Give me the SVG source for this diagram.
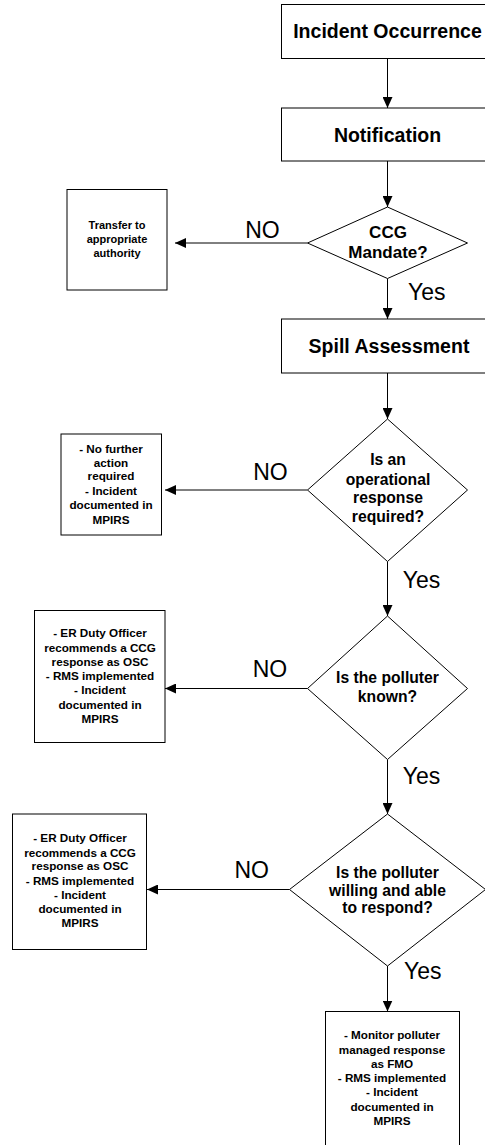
<svg xmlns="http://www.w3.org/2000/svg" width="485" height="1145" viewBox="0 0 485 1145">
<style>
.box{fill:#fff;stroke:#000;stroke-width:1}
.big{font-family:"Liberation Sans",Arial,sans-serif;font-weight:bold;font-size:19.5px;text-anchor:middle;fill:#000}
.dia{font-family:"Liberation Sans",Arial,sans-serif;font-weight:bold;font-size:15.7px;text-anchor:middle;fill:#000}
.sm{font-family:"Liberation Sans",Arial,sans-serif;font-weight:bold;font-size:11.7px;text-anchor:middle;fill:#000}
.lbl{font-family:"Liberation Sans",Arial,sans-serif;font-size:23px;fill:#000}
.ln{stroke:#000;stroke-width:1;fill:none;marker-end:url(#ah)}
</style>
<defs>
<marker id="ah" markerUnits="userSpaceOnUse" markerWidth="11" markerHeight="10" refX="11" refY="5" orient="auto">
<path d="M0,0 L11,5 L0,10 z" fill="#000"/>
</marker>
</defs>
<g id="connectors">
<line class="ln" x1="387.5" y1="58.5" x2="387.5" y2="108"/>
<line class="ln" x1="387.5" y1="161" x2="387.5" y2="207"/>
<line class="ln" x1="387.5" y1="278.5" x2="387.5" y2="319"/>
<line class="ln" x1="387.5" y1="373" x2="387.5" y2="419"/>
<line class="ln" x1="387.5" y1="561.5" x2="387.5" y2="616"/>
<line class="ln" x1="387.5" y1="759.5" x2="387.5" y2="814"/>
<line class="ln" x1="387.5" y1="966" x2="387.5" y2="1011.5"/>
<line class="ln" x1="307.5" y1="243" x2="175" y2="243"/>
<line class="ln" x1="307.5" y1="490" x2="165" y2="490"/>
<line class="ln" x1="307.5" y1="688.5" x2="165" y2="688.5"/>
<line class="ln" x1="289.5" y1="889.5" x2="147" y2="889.5"/>
<text class="lbl" x="262.5" y="238" text-anchor="middle">NO</text>
<text class="lbl" x="408" y="300">Yes</text>
<text class="lbl" x="270.5" y="480" text-anchor="middle">NO</text>
<text class="lbl" x="402.7" y="587.7">Yes</text>
<text class="lbl" x="270" y="676.7" text-anchor="middle">NO</text>
<text class="lbl" x="402.7" y="784.3">Yes</text>
<text class="lbl" x="251.7" y="878.3" text-anchor="middle">NO</text>
<text class="lbl" x="404" y="979.3">Yes</text>
</g>
<g id="incident">
<rect class="box" x="281.5" y="4.5" width="220" height="54"/>
<text class="big" x="387.5" y="38.3">Incident Occurrence</text>
</g>
<g id="notification">
<rect class="box" x="281.5" y="108" width="220" height="53"/>
<text class="big" x="387.5" y="141.7">Notification</text>
</g>
<g id="ccg-mandate">
<polygon class="box" points="387.5,207 467.5,243 387.5,278.5 307.5,243"/>
<text class="dia" style="font-size:17px" x="388" y="238">CCG</text>
<text class="dia" style="font-size:17px" x="388" y="258">Mandate?</text>
</g>
<g id="transfer">
<rect class="box" x="67" y="189.5" width="100" height="100.5"/>
<text class="sm" style="font-size:11px" x="117" y="229.3">Transfer to</text>
<text class="sm" style="font-size:11px" x="117" y="243.3">appropriate</text>
<text class="sm" style="font-size:11px" x="117" y="257.3">authority</text>
</g>
<g id="spill">
<rect class="box" x="281.5" y="319" width="220" height="54"/>
<text class="big" x="389" y="352.7">Spill Assessment</text>
</g>
<g id="operational">
<polygon class="box" points="387.5,419 467.5,490 387.5,561.5 307.5,490"/>
<text class="dia" x="388" y="465">Is an</text>
<text class="dia" x="388" y="485">operational</text>
<text class="dia" x="388" y="503.3">response</text>
<text class="dia" x="388" y="521.7">required?</text>
</g>
<g id="no-action">
<rect class="box" x="61" y="434" width="100.5" height="101"/>
<text class="sm" x="111" y="453.3">- No further</text>
<text class="sm" x="111" y="466.7">action</text>
<text class="sm" x="111" y="480">required</text>
<text class="sm" x="111" y="495">- Incident</text>
<text class="sm" x="111" y="509.3">documented in</text>
<text class="sm" x="111" y="524">MPIRS</text>
</g>
<g id="polluter-known">
<polygon class="box" points="387.5,616 467.5,688.5 387.5,759.5 307.5,688.5"/>
<text class="dia" x="387.5" y="682.7">Is the polluter</text>
<text class="dia" x="387.5" y="701.7">known?</text>
</g>
<g id="unknown-action">
<rect class="box" x="34.5" y="610.5" width="130.5" height="132"/>
<text class="sm" x="100" y="636.7">- ER Duty Officer</text>
<text class="sm" x="100" y="651.7">recommends a CCG</text>
<text class="sm" x="100" y="665.7">response as OSC</text>
<text class="sm" x="100" y="680">- RMS implemented</text>
<text class="sm" x="100" y="694.3">- Incident</text>
<text class="sm" x="100" y="709.3">documented in</text>
<text class="sm" x="100" y="723.3">MPIRS</text>
</g>
<g id="polluter-willing">
<polygon class="box" points="387.5,814 485.5,889.5 387.5,966 289.5,889.5"/>
<text class="dia" x="387.5" y="878.3">Is the polluter</text>
<text class="dia" x="387.5" y="896">willing and able</text>
<text class="dia" x="387.5" y="913.3">to respond?</text>
</g>
<g id="unwilling-action">
<rect class="box" x="12.5" y="814" width="134" height="135.5"/>
<text class="sm" x="80" y="841.7">- ER Duty Officer</text>
<text class="sm" x="80" y="856.7">recommends a CCG</text>
<text class="sm" x="80" y="870">response as OSC</text>
<text class="sm" x="80" y="885">- RMS implemented</text>
<text class="sm" x="80" y="899">- Incident</text>
<text class="sm" x="80" y="913.3">documented in</text>
<text class="sm" x="80" y="927.3">MPIRS</text>
</g>
<g id="monitor">
<rect class="box" x="325.5" y="1011.5" width="134" height="150"/>
<text class="sm" x="392" y="1039.3">- Monitor polluter</text>
<text class="sm" x="392" y="1054">managed response</text>
<text class="sm" x="392" y="1068.3">as FMO</text>
<text class="sm" x="392" y="1082.3">- RMS implemented</text>
<text class="sm" x="392" y="1096">- Incident</text>
<text class="sm" x="392" y="1110.7">documented in</text>
<text class="sm" x="392" y="1125">MPIRS</text>
</g>
</svg>
